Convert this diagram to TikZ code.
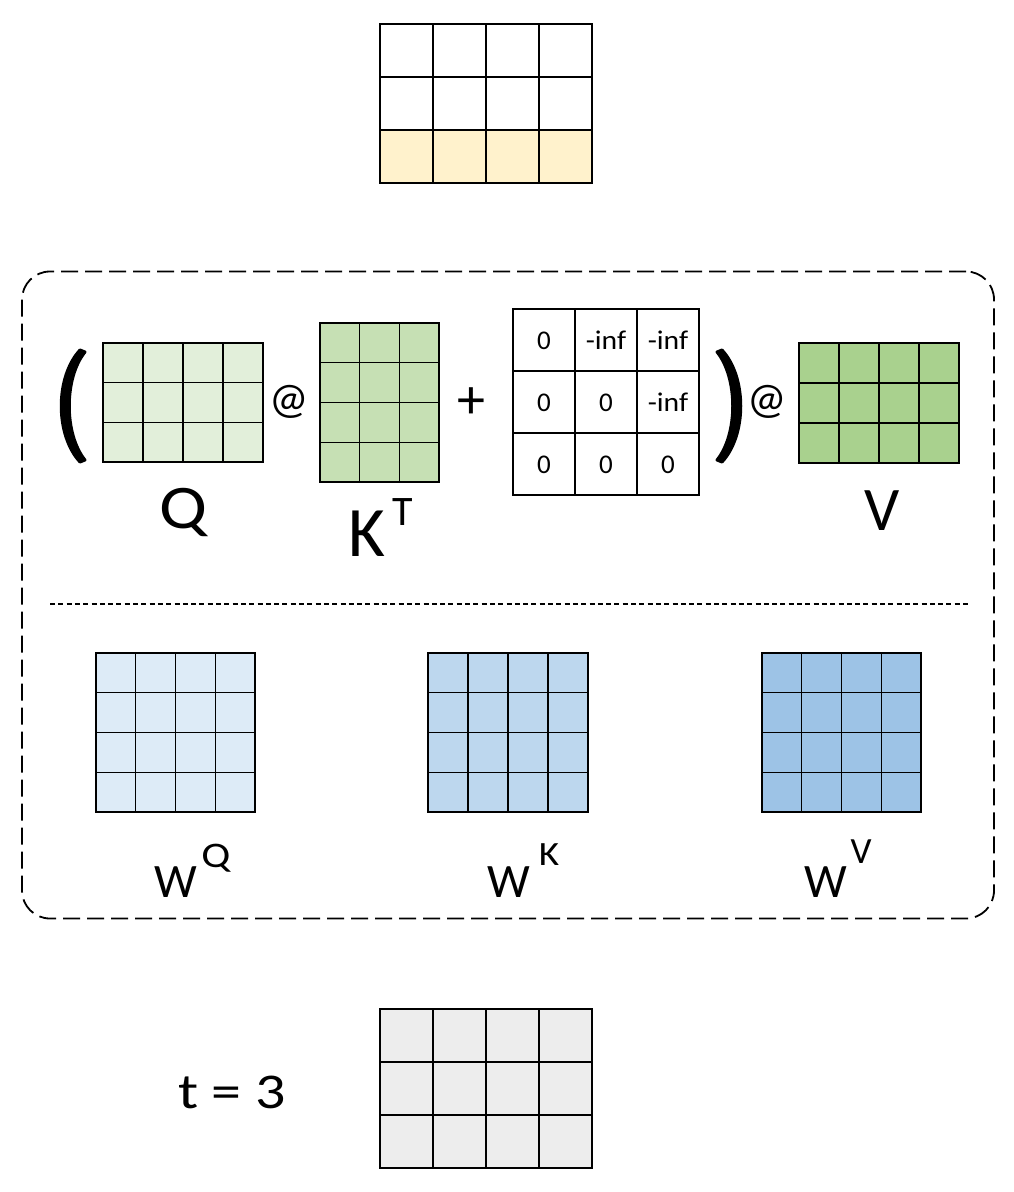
\documentclass[tikz,border=0pt]{standalone}
\usepackage{fontspec}
\setmainfont{Carlito}
\definecolor{cyellow}{HTML}{FFF2CC}
\definecolor{cqg}{HTML}{E2EFDA}
\definecolor{ckg}{HTML}{C6E0B4}
\definecolor{cvg}{HTML}{A9D18E}
\definecolor{cwq}{HTML}{DDEBF7}
\definecolor{cwk}{HTML}{BDD7EE}
\definecolor{cwv}{HTML}{9DC3E6}
\definecolor{cgry}{HTML}{EDEDED}
\newcommand{\fs}[1]{\fontsize{#1}{#1}\selectfont}
\newcommand{\wid}[2]{\scalebox{#1}[1]{#2}}
% name, x0, y0, x1, y1, cols, rows, colour
\newcommand{\mtx}[8]{%
  \node[matbox, fill=#8, minimum width={(#4-#2)*1pt}, minimum height={(#5-#3)*1pt}]
    (#1) at ({(#2+#4)/2},{(#3+#5)/2}) {};
  \pgfmathsetmacro\mdx{(#4-#2)/#6}
  \pgfmathsetmacro\mdy{(#5-#3)/#7}
  \foreach \i in {0,...,#6} {\draw[gridline] ({#2+\i*\mdx},#3) -- ({#2+\i*\mdx},#5);}
  \foreach \j in {0,...,#7} {\draw[gridline] (#2,{#3+\j*\mdy}) -- (#4,{#3+\j*\mdy});}
}
\begin{document}
\begin{tikzpicture}[x=1pt,y=-1pt,
  matbox/.style={draw=black, line width=1.2pt, inner sep=0pt, outer sep=0pt},
  gridline/.style={draw=black, line width=1.2pt, line cap=rect},
  lbl/.style={inner sep=0pt, outer sep=0pt, anchor=base, text=black},
  cell/.style={inner sep=0pt, anchor=base, font=\fs{27}},
  paren/.style={fill=black, draw=black, line width=3pt, line join=round}]
\useasboundingbox (0,0) rectangle (1014,1192);

% top output matrix
\mtx{top}{380}{24}{592}{183}{4}{3}{white}
\fill[cyellow] (380,130) rectangle (592,183);
\foreach \i in {0,...,4} {\draw[gridline] ({380+\i*53},24) -- ({380+\i*53},183);}
\foreach \j in {0,...,3} {\draw[gridline] (380,{24+\j*53}) -- (592,{24+\j*53});}

% dashed block
\node[draw=black, line width=1.8pt, dash pattern=on 17pt off 7pt, rounded corners=28pt,
  minimum width=972pt, minimum height=647pt, inner sep=0pt] (block) at (508,595) {};

% parentheses
\path[paren] (80,350) .. controls (55,377) and (55,435) .. (80,462)
  -- (85,460) .. controls (64,434) and (64,378) .. (85,352) -- cycle;
\path[paren] (722,350) .. controls (747,377) and (747,435) .. (722,462)
  -- (717,460) .. controls (738,434) and (738,378) .. (717,352) -- cycle;

% Q, K^T, mask, V
\mtx{Q}{103}{343}{263}{462}{4}{3}{cqg}
\mtx{KT}{320}{323}{439}{482}{3}{4}{ckg}
\mtx{mask}{513}{309}{699}{495}{3}{3}{white}
\mtx{V}{799}{343}{959}{463}{4}{3}{cvg}

\node[lbl, font=\fs{44}] (at1) at (289,413) {@};
\node[inner sep=0pt, font=\fs{56}] (plus) at (471,403) {+};
\node[lbl, font=\fs{44}] (at2) at (767,413) {@};

% mask entries
\node[cell] (m11) at (544,349) {0};
\node[cell] (m12) at (606,349) {\wid{1.1}{-inf}};
\node[cell] (m13) at (668,349) {\wid{1.1}{-inf}};
\node[cell] (m21) at (544,411) {0};
\node[cell] (m22) at (606,411) {0};
\node[cell] (m23) at (668,411) {\wid{1.1}{-inf}};
\node[cell] (m31) at (544,473) {0};
\node[cell] (m32) at (606,473) {0};
\node[cell] (m33) at (668,473) {0};

% labels
\node[lbl, font=\fs{62}] (lq) at (183,528) {\wid{1.15}{Q}};
\node[lbl, font=\fs{71}] (lk) at (367,556) {K};
\node[lbl, font=\fs{42}] (lt) at (403,525) {T};
\node[lbl, font=\fs{62}] (lv) at (882,530) {V};

% divider
\coordinate (dl) at (50,604);
\coordinate (dr) at (968,604);
\draw[line width=2.7pt, dash pattern=on 5pt off 3.3pt] (dl) -- (dr);

% weight matrices
\mtx{WQ}{96}{653}{255}{812}{4}{4}{cwq}
\mtx{WK}{428}{653}{588}{812}{4}{4}{cwk}
\mtx{WV}{762}{653}{921}{812}{4}{4}{cwv}

\node[lbl, font=\fs{48}] (wq) at (176,897) {W};
\node[lbl, font=\fs{36}] (wqs) at (216,867) {\wid{1.2}{Q}};
\node[lbl, font=\fs{48}] (wk) at (509,897) {W};
\node[lbl, font=\fs{34}] (wks) at (549,865) {\wid{1.15}{K}};
\node[lbl, font=\fs{48}] (wv) at (826,897) {W};
\node[lbl, font=\fs{37}] (wvs) at (861,863) {V};

% bottom input
\node[lbl, font=\fs{50}] (t3) at (232,1108) {\wid{1.2}{t = 3}};
\mtx{inp}{380}{1009}{592}{1168}{4}{3}{cgry}
\end{tikzpicture}
\end{document}
